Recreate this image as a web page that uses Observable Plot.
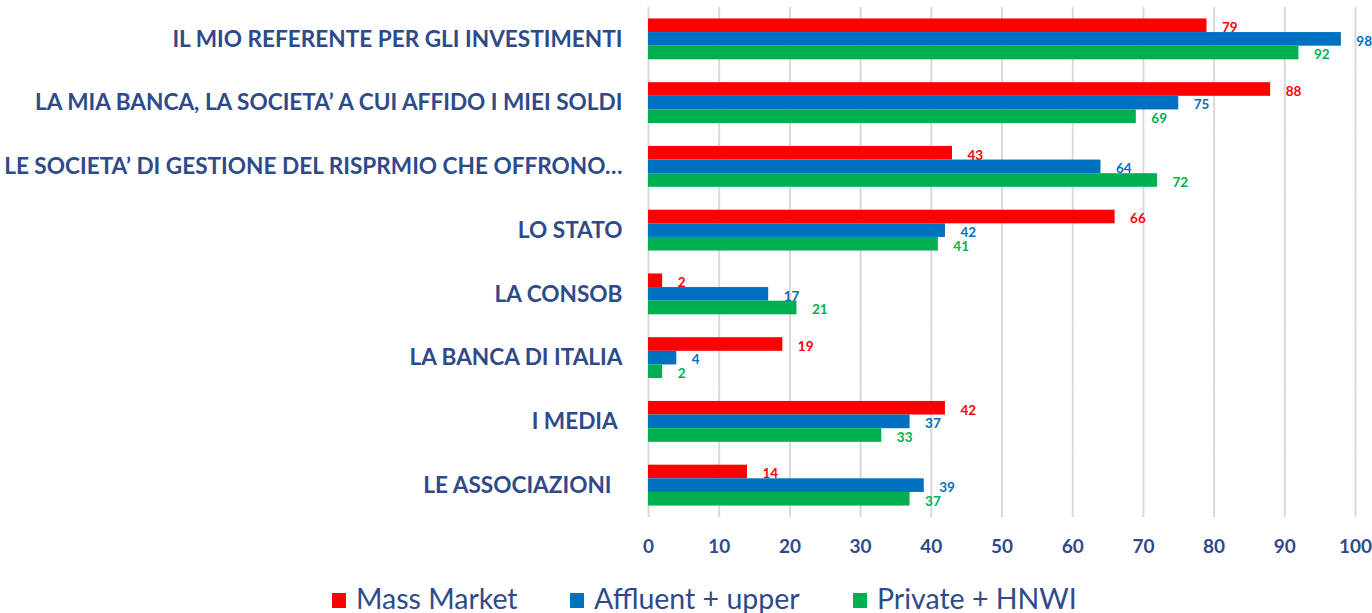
<!DOCTYPE html>
<html>
<head>
<meta charset="utf-8">
<script src="https://cdn.jsdelivr.net/npm/d3@7"></script>
<script src="https://cdn.jsdelivr.net/npm/@observablehq/plot@0.6"></script>
<style>
  html, body { margin: 0; padding: 0; background: #fff; }
  #chart { width: 1372px; }
  .legend { position: relative; height: 43px; font-family: Lato, "Open Sans", sans-serif; font-size: 28.5px; color: #2F4A8A; }
  .legend .item { position: absolute; top: 12px; height: 32px; display: flex; align-items: center; white-space: nowrap; }
  .legend .sw { width: 14px; height: 15px; margin-right: 10px; margin-top: 5px; }
</style>
</head>
<body>
<div id="chart"></div>
<script>
const categories = [
  "IL MIO REFERENTE PER GLI INVESTIMENTI",
  "LA MIA BANCA, LA SOCIETA’ A CUI AFFIDO I MIEI SOLDI",
  "LE SOCIETA’ DI GESTIONE DEL RISPRMIO CHE OFFRONO…",
  "LO STATO",
  "LA CONSOB",
  "LA BANCA DI ITALIA",
  "I MEDIA\u00a0",
  "LE ASSOCIAZIONI\u00a0\u00a0"
];
const seriesNames = ["Mass Market", "Affluent + upper", "Private + HNWI"];
const seriesColors = ["#FF0000", "#0070C0", "#00B050"];
const massMarket = [79, 88, 43, 66, 2, 19, 42, 14];
const affluentUpper = [98, 75, 64, 42, 17, 4, 37, 39];
const privateHNWI = [92, 69, 72, 41, 21, 2, 33, 37];
const xTicks = [0, 10, 20, 30, 40, 50, 60, 70, 80, 90, 100];

const seriesValues = [massMarket, affluentUpper, privateHNWI];
const data = [];
categories.forEach((c, i) => {
  seriesNames.forEach((s, j) => {
    data.push({cat: c, series: s, value: seriesValues[j][i]});
  });
});

const navy = "#2F4A8A";
const chart = Plot.plot({
  width: 1372,
  height: 570,
  marginLeft: 648,
  marginRight: 17,
  marginTop: 7,
  marginBottom: 53,
  facet: {data, y: "cat", marginLeft: 648},
  fy: {domain: categories, padding: 0, round: false, label: null, tickSize: 0, tickPadding: 26},
  y: {domain: seriesNames, axis: null, round: false, paddingInner: 0, paddingOuter: 0.84},
  x: {domain: [0, 100], ticks: xTicks, label: null, tickSize: 0, tickPadding: 22},
  color: {domain: seriesNames, range: seriesColors},
  style: {fontFamily: "Lato, 'Open Sans', sans-serif", color: navy, background: "#fff"},
  marks: [
    Plot.ruleX(xTicks, {x: d => d, stroke: "#D9D9D9", strokeWidth: 2}),
    Plot.barX(data, {x: "value", y: "series", fill: "series"}),
    Plot.text(data, {x: "value", y: "series", text: d => String(d.value), fill: "series", textAnchor: "start", dx: 15, dy: 2, fontWeight: "bold", fontSize: 13.5})
  ]
});

d3.select(chart).selectAll("[aria-label='fy-axis tick label'] text, [aria-label='fy-axis'] text")
  .attr("font-size", 22.6).attr("font-weight", "bold").attr("fill", navy);
d3.select(chart).selectAll("[aria-label='x-axis tick label'] text, [aria-label='x-axis'] text")
  .attr("font-size", 19).attr("font-weight", "bold").attr("fill", navy);

document.getElementById("chart").appendChild(chart);

const legendLefts = [332, 570, 853];
const legend = document.createElement("div");
legend.className = "legend";
seriesNames.forEach((s, j) => {
  const item = document.createElement("div");
  item.className = "item";
  item.style.left = legendLefts[j] + "px";
  const sw = document.createElement("span");
  sw.className = "sw";
  sw.style.background = seriesColors[j];
  const t = document.createElement("span");
  t.textContent = s;
  item.appendChild(sw);
  item.appendChild(t);
  legend.appendChild(item);
});
document.getElementById("chart").appendChild(legend);
</script>
</body>
</html>
